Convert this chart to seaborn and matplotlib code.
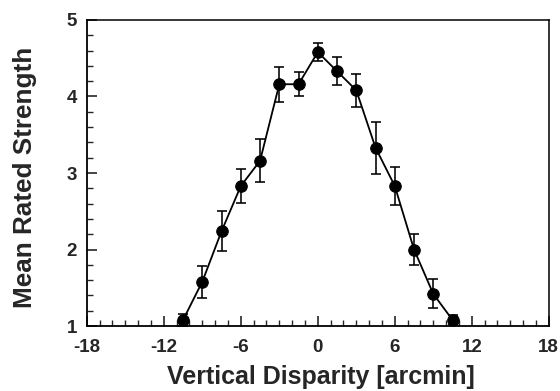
import numpy as np
import pandas as pd
import matplotlib
matplotlib.use("Agg")
import matplotlib.pyplot as plt
from matplotlib.ticker import MultipleLocator
import seaborn as sns

disparity = [-10.5, -9, -7.5, -6, -4.5, -3, -1.5, 0, 1.5, 3, 4.5, 6, 7.5, 9, 10.5]
strength = [1.08, 1.58, 2.24, 2.83, 3.16, 4.16, 4.16, 4.58, 4.33, 4.08, 3.33, 2.83, 2.0, 1.42, 1.08]
sem = [0.08, 0.21, 0.26, 0.22, 0.28, 0.23, 0.16, 0.12, 0.18, 0.22, 0.34, 0.25, 0.2, 0.19, 0.06]
xticks = [-18, -12, -6, 0, 6, 12, 18]
yticks = [1, 2, 3, 4, 5]

df = pd.DataFrame({"disparity": disparity, "strength": strength, "sem": sem})

sns.set_style("ticks")
plt.rcParams['font.family'] = ['Liberation Sans', 'DejaVu Sans']
plt.rcParams['axes.unicode_minus'] = False

fig = plt.figure(figsize=(5.6, 3.91), dpi=100)
ax = fig.add_axes([0.155, 0.166, 0.825, 0.783])

ax.errorbar(df["disparity"], df["strength"], yerr=df["sem"], fmt="none",
            ecolor="black", elinewidth=1.15, capsize=3.6, capthick=1.15, zorder=2)
sns.lineplot(data=df, x="disparity", y="strength", ax=ax, color="black",
             linewidth=1.3, marker="o", markersize=8.3, markeredgecolor="black",
             markerfacecolor="black", zorder=3)

ax.set_xlim(-18, 18)
ax.set_ylim(1, 5)
ax.set_xticks(xticks)
ax.set_yticks(yticks)
ax.xaxis.set_minor_locator(MultipleLocator(1))
ax.yaxis.set_minor_locator(MultipleLocator(0.2))
ax.tick_params(which="major", direction="in", length=7, width=1.2, labelsize=13.5)
ax.tick_params(axis="x", which="major", pad=9)
ax.tick_params(axis="y", which="major", pad=7)
ax.tick_params(which="minor", direction="in", length=4, width=1.0)
ax.tick_params(top=False, right=False, which="both")
for lab in ax.get_xticklabels() + ax.get_yticklabels():
    lab.set_fontweight("bold")
for sp in ax.spines.values():
    sp.set_linewidth(1.3)
    sp.set_color("black")
ax.spines["top"].set_linewidth(1.1)
ax.spines["right"].set_linewidth(1.1)

ax.set_xlabel("Vertical Disparity [arcmin]", fontsize=18, fontweight="bold")
ax.set_ylabel("Mean Rated Strength", fontsize=18.8, fontweight="bold")
ax.xaxis.set_label_coords(0.5065, -0.128)
ax.yaxis.set_label_coords(-0.108, 0.487)

fig.savefig("out.png", dpi=100)
